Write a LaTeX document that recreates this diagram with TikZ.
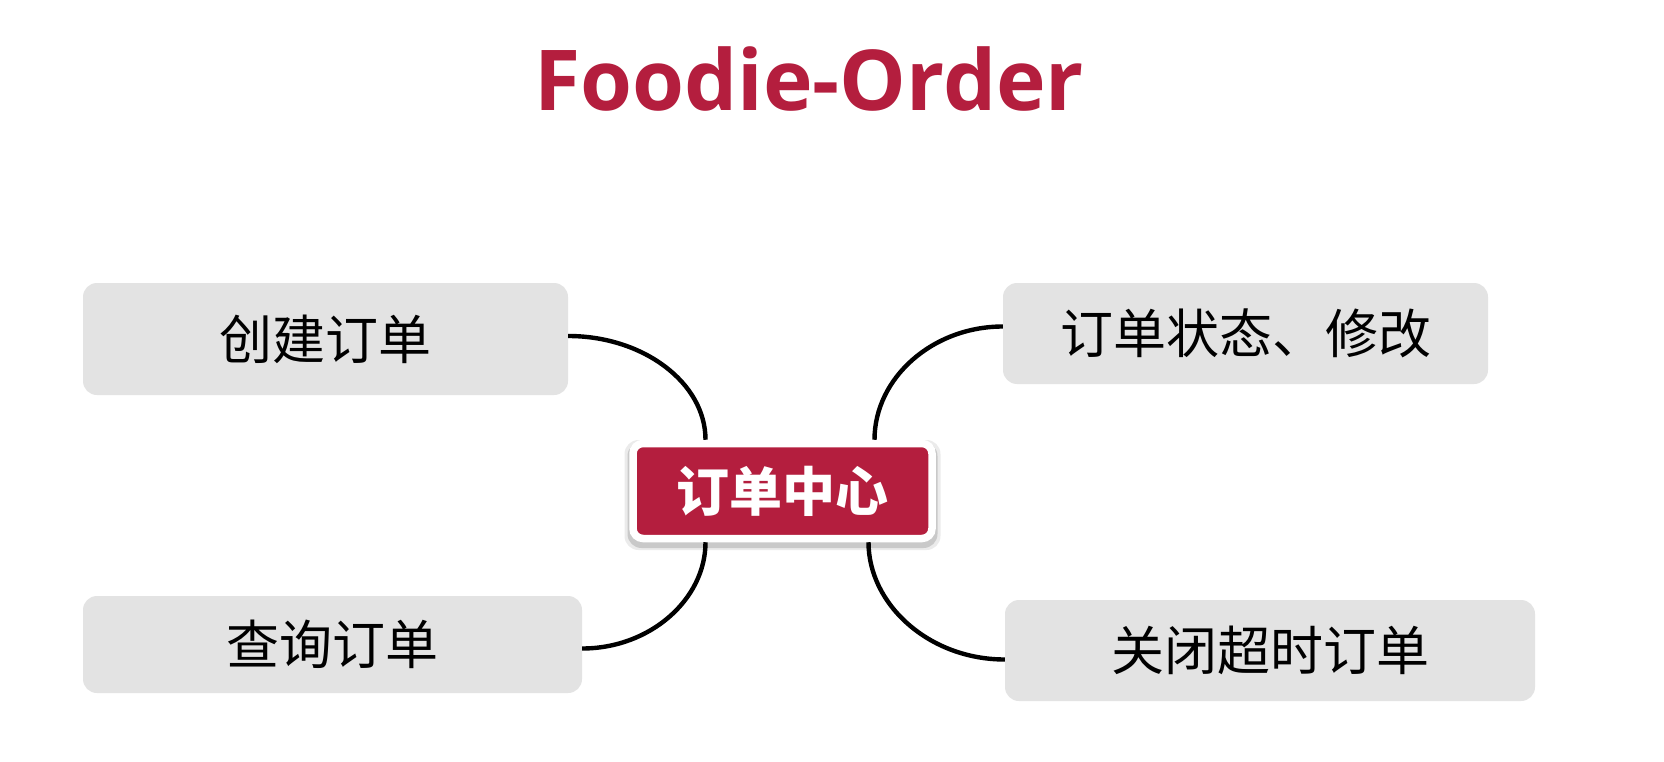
\documentclass[tikz,border=0pt]{standalone}
\usepackage{fontspec}
\newfontfamily\cjk{Noto Sans CJK SC}
\newfontfamily\titlefont{Open Sans}
\usetikzlibrary{calc}
\definecolor{brandred}{HTML}{B41E3E}
\definecolor{boxgray}{HTML}{E3E3E3}
\begin{document}
\begin{tikzpicture}[x=1pt,y=-1pt,
  leaf/.style={fill=boxgray, rounded corners=14pt, inner sep=0pt,
    font=\cjk\fontsize{53}{60}\selectfont, text=black},
  hub/.style={fill=brandred, draw=white, line width=7.5pt, rounded corners=10pt,
    minimum width=299pt, minimum height=95pt, inner sep=0pt,
    font=\cjk\bfseries\fontsize{53}{60}\selectfont, text=white},
  glow/.style={fill=black, rounded corners=14pt, inner sep=0pt},
  link/.style={line width=4.4pt, black}]
\useasboundingbox[fill=white] (0,0) rectangle (1664,762);

\node[font=\titlefont\bfseries\fontsize{84}{100}\selectfont, text=brandred,
  anchor=base, inner sep=0pt] (title) at (809,111) {Foodie-Order};

\node[leaf, minimum width=485pt, minimum height=112pt] (lt) at (325.5,339) {创建订单};
\node[leaf, minimum width=499pt, minimum height=97pt] (lb) at (332.5,644.5) {查询订单};
\node[leaf, minimum width=485pt, minimum height=101pt] (rt) at (1245.5,333.5) {订单状态、修改};
\node[leaf, minimum width=530pt, minimum height=101pt] (rb) at (1270,650.5) {关闭超时订单};

\node[glow, opacity=0.08, minimum width=316pt, minimum height=110pt] (s1) at (782.5,495) {};
\node[glow, opacity=0.14, minimum width=310pt, minimum height=106pt] (s2) at (782.5,495) {};
\node[hub] (c) at (782.5,491) {订单中心};

\draw[link] ($(lt.east)+(0,-3)$) .. controls +(75,0) and +(0,-57) .. ($(c.north)+(-77,0)$);
\draw[link] ($(c.south)+(-77,0)$) .. controls +(0,57) and +(68,0) .. ($(lb.east)+(0,4)$);
\draw[link] ($(c.north)+(92,0)$) .. controls +(0,-62) and +(-70,0) .. ($(rt.west)+(0,-7)$);
\draw[link] ($(c.south)+(86,0)$) .. controls +(0,62) and +(-76,0) .. ($(rb.west)+(0,9)$);
\end{tikzpicture}
\end{document}
